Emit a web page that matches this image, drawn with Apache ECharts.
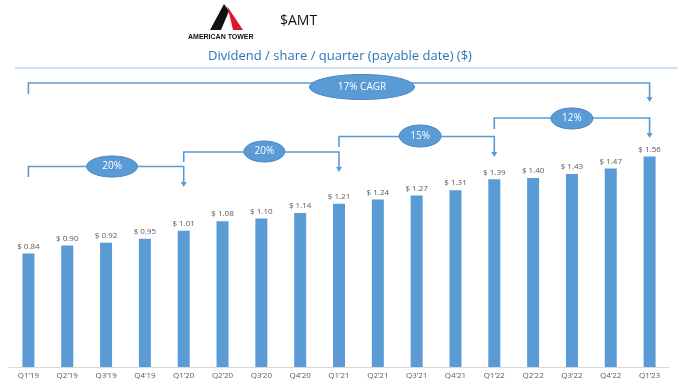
<!DOCTYPE html>
<html>
<head>
<meta charset="utf-8">
<script src="https://cdn.jsdelivr.net/npm/echarts@6/dist/echarts.min.js"></script>
<style>
html,body{margin:0;padding:0;background:#fff;}
#c{width:680px;height:386px;}
</style>
</head>
<body>
<div id="c"></div>
<script>
// ---- data ----
const categories = ["Q1’19","Q2’19","Q3’19","Q4’19","Q1’20","Q2’20","Q3’20","Q4’20","Q1’21","Q2’21","Q3’21","Q4’21","Q1’22","Q2’22","Q3’22","Q4’22","Q1’23"];
const dividends = [0.84,0.90,0.92,0.95,1.01,1.08,1.10,1.14,1.21,1.24,1.27,1.31,1.39,1.40,1.43,1.47,1.56];
const growthFrom = [0,4,8,12,0];
const growthTo = [4,8,12,16,16];
const growthLabels = ["20%","20%","15%","12%","17% CAGR"];

// ---- annotation layout (pixels) ----
const bracketLayout = [
  {level:166.5, leftEnd:177, tip:187, dx:6,   cy:166.5, rx:25.5, ry:10.5},
  {level:152,   leftEnd:162, tip:172, dx:3,   cy:151.5, rx:20.5, ry:10.5},
  {level:136.5, leftEnd:147, tip:157, dx:3.5, cy:136,   rx:21,   ry:11},
  {level:118,   leftEnd:129, tip:138, dx:0,   cy:118.5, rx:21,   ry:10.5},
  {level:83,    leftEnd:94,  tip:102, dx:23,  cy:87,    rx:52.5, ry:12.5}
];

const blue = '#5B9BD5';
const chart = echarts.init(document.getElementById('c'), null, {renderer:'canvas'});

const bracketData = growthFrom.map((f,i)=>[f, growthTo[i]]);

function renderBracket(params, api){
  const i = params.dataIndex;
  const L = bracketLayout[i];
  const x1 = api.coord([api.value(0), 0])[0];
  const x2 = api.coord([api.value(1), 0])[0];
  const mid = (x1+x2)/2 + L.dx;
  const ls = {stroke: blue, lineWidth: 1.6, fill: null};
  return {
    type:'group',
    children:[
      {type:'polyline', shape:{points:[[x1,L.leftEnd],[x1,L.level],[x2,L.level],[x2,L.tip-4]]}, style:ls, silent:true},
      {type:'polygon', shape:{points:[[x2-3,L.tip-5],[x2+3,L.tip-5],[x2,L.tip]]}, style:{fill:blue}, silent:true},
      {type:'ellipse', shape:{cx:mid, cy:L.cy, rx:L.rx, ry:L.ry}, style:{fill:blue, stroke:'#4A85BF', lineWidth:1}, silent:true},
      {type:'text', style:{x:mid, y:L.cy, text:growthLabels[i], fill:'#fff', font:'10px "Open Sans", "Noto Sans", sans-serif', align:'center', verticalAlign:'middle'}, silent:true}
    ]
  };
}

chart.setOption({
  animation:false,
  backgroundColor:'#fff',
  grid:{left:9, right:11, top:70, bottom:19},
  xAxis:{
    type:'category', data:categories, boundaryGap:true,
    axisLine:{lineStyle:{color:'#d9d9d9', width:1}},
    axisTick:{show:false},
    axisLabel:{color:'#595959', fontSize:8, margin:5, interval:0, fontFamily:'"Open Sans", "Noto Sans", sans-serif'}
  },
  yAxis:{type:'value', min:0, max:2.2, show:false, splitLine:{show:false}},
  graphic:[
    {type:'polygon', shape:{points:[[224,4],[229,11],[221,30],[210,30]]}, style:{fill:'#111'}},
    {type:'polygon', shape:{points:[[227,6],[243,30],[233,30],[230,17]]}, style:{fill:'#D7192E'}},
    {type:'text', left:188, top:34, style:{text:'AMERICAN TOWER', fill:'#111', font:'bold 7px "Liberation Sans", Arial, sans-serif'}},
    {type:'text', left:280, top:14, style:{text:'$AMT', fill:'#111', font:'14px "Open Sans", "Noto Sans", sans-serif'}},
    {type:'text', left:'center', top:50, style:{text:'Dividend / share / quarter (payable date) ($)', fill:'#2E75B6', font:'13px "Open Sans", "Noto Sans", sans-serif'}},
    {type:'line', shape:{x1:15, y1:68, x2:678, y2:68}, style:{stroke:'#9DC3E6', lineWidth:1}}
  ],
  series:[
    {
      type:'bar', data:dividends, barWidth:12,
      itemStyle:{color:blue},
      label:{show:true, position:'top', distance:3, color:'#595959', fontSize:8, fontFamily:'"Open Sans", "Noto Sans", sans-serif',
        formatter:p=>'$ '+p.value.toFixed(2)}
    },
    {
      type:'custom', data:bracketData, renderItem:renderBracket, clip:false, silent:true, z:5
    }
  ]
});
</script>
</body>
</html>
